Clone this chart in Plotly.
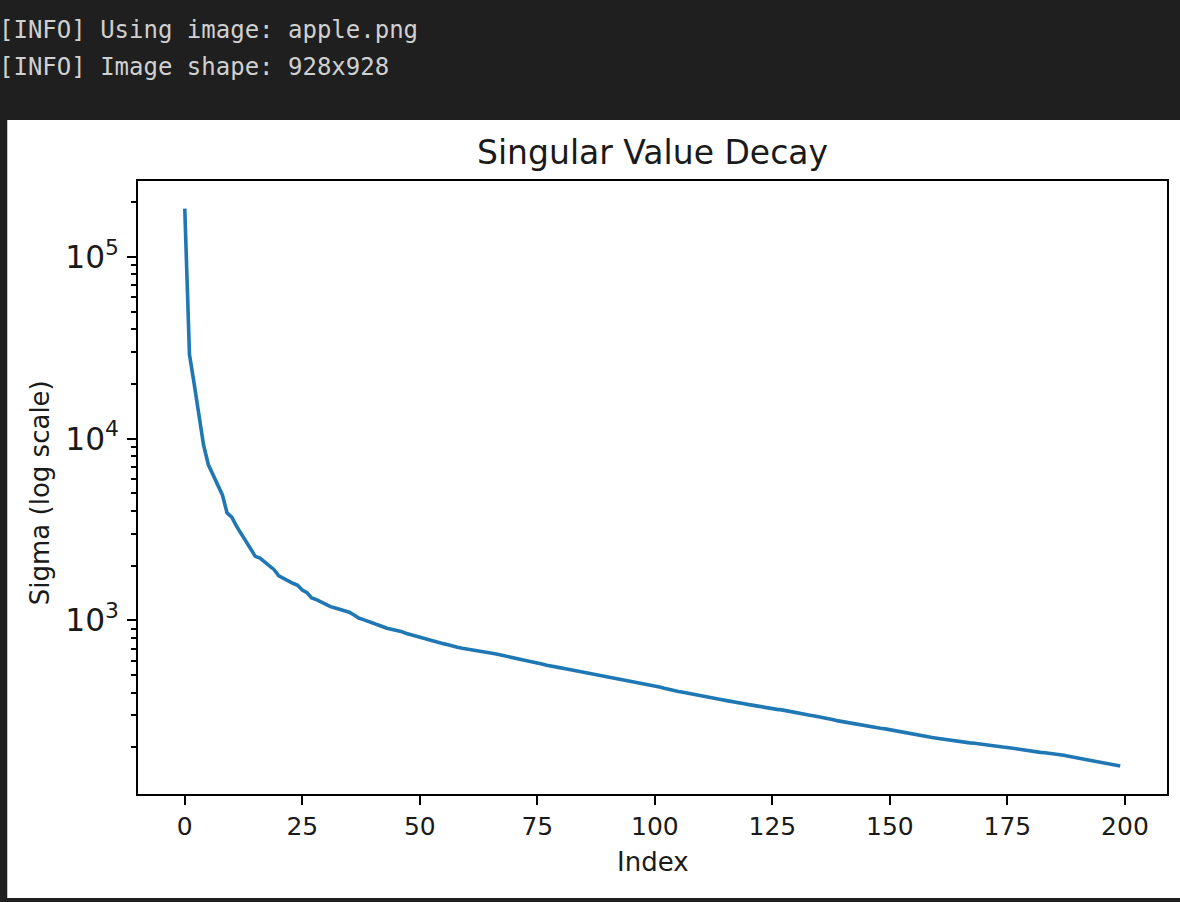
import plotly.graph_objects as go

# ---- data ----
title_text = "Singular Value Decay"
x_label = "Index"
y_label = "Sigma (log scale)"
console_lines = ["[INFO] Using image: apple.png", "[INFO] Image shape: 928x928"]

sigma = [
    184000, 29000, 20000, 14000, 9200, 7200, 6300, 5500, 4900, 3900,
    3700, 3300, 3000, 2750, 2450, 2250, 2200, 2100, 2000, 1900,
    1760, 1700, 1660, 1600, 1560, 1470, 1420, 1330, 1300, 1260,
    1220, 1190, 1170, 1150, 1130, 1110, 1070, 1030, 1010, 990,
    970, 955, 925, 905, 895, 875, 870, 850, 835, 820,
    810, 795, 780, 770, 755, 745, 735, 720, 712, 703,
    697, 690, 680, 675, 668, 660, 655, 648, 638, 627,
    618, 610, 605, 598, 592, 584, 575, 566, 558, 553,
    548, 542, 536, 530, 524, 518, 512, 506, 500, 496,
    490, 484, 478, 472, 466, 460, 456, 451, 446, 441,
    436, 430, 423, 416, 410, 406, 402, 398, 393, 388,
    384, 380, 375, 371, 367, 363, 360, 356, 352, 348,
    344, 340, 336, 332, 329, 326, 324, 322, 319, 316,
    313, 309, 305, 301, 298, 295, 292, 288, 284, 280,
    277, 274, 270, 267, 264, 261, 259, 257, 255, 253,
    250, 247, 245, 243, 241, 238, 235, 232, 229, 227,
    225, 223, 221, 218, 216, 214, 213, 212, 211, 209,
    207, 205, 203, 202, 201, 200, 198, 196, 194, 192,
    190, 189, 188, 187, 186, 185, 183, 181, 179, 177,
    175, 173, 171, 169, 168, 167, 165, 163, 161, 158,
]
index = list(range(len(sigma)))
x_ticks = [0, 25, 50, 75, 100, 125, 150, 175, 200]

# ---- layout geometry (pixels) ----
W, H = 1180, 902
L, R, T, B = 138, 1169, 181, 794
DARK = "#1f1f1f"
INK = "#1a1a1a"


def px_x(px):
    return (px - L) / (R - L)


def px_y(py):
    return (B - py) / (B - T)


fig = go.Figure()
fig.add_trace(go.Scatter(
    x=index, y=sigma, mode="lines",
    line=dict(color="#1f77b4", width=3.6),
    hoverinfo="skip", showlegend=False,
))

axis_common = dict(
    showline=True, linecolor="black", linewidth=2, mirror=True,
    ticks="outside", ticklen=9, tickwidth=2, tickcolor="black",
    showgrid=False, zeroline=False,
    tickfont=dict(family="DejaVu Sans", size=25, color=INK),
)

fig.update_xaxes(
    range=[-9.95, 208.95], tickmode="array", tickvals=x_ticks,
    ticktext=[str(t) for t in x_ticks], **axis_common,
)
fig.update_yaxes(
    type="log", range=[2.045, 5.417], dtick=1, exponentformat="power",
    ticklabelstandoff=3,
    minor=dict(ticks="outside", ticklen=5, tickwidth=1.6, tickcolor="black", dtick="D1", showgrid=False),
    **axis_common,
)

shapes = [
    # white figure panel on the dark terminal background
    dict(type="rect", xref="paper", yref="paper", layer="below",
         x0=px_x(7), x1=px_x(W + 5), y0=px_y(898), y1=px_y(120),
         fillcolor="white", line=dict(width=0)),
]

annotations = [
    dict(text=title_text, x=px_x((L + R) / 2), y=px_y(153), xref="paper", yref="paper",
         xanchor="center", yanchor="middle", showarrow=False,
         font=dict(family="DejaVu Sans", size=33, color=INK)),
    dict(text=x_label, x=px_x((L + R) / 2), y=px_y(862), xref="paper", yref="paper",
         xanchor="center", yanchor="middle", showarrow=False,
         font=dict(family="DejaVu Sans", size=26, color=INK)),
    dict(text=y_label, x=px_x(40), y=px_y(493), xref="paper", yref="paper",
         xanchor="center", yanchor="middle", showarrow=False, textangle=-90,
         font=dict(family="DejaVu Sans", size=26, color=INK)),
]
for i, line in enumerate(console_lines):
    annotations.append(dict(
        text=line, x=px_x(-3), y=px_y(30 + 37 * i), xref="paper", yref="paper",
        xanchor="left", yanchor="middle", showarrow=False,
        font=dict(family="DejaVu Sans Mono", size=24, color="#d0d0d0"),
    ))

fig.update_layout(
    width=W, height=H, autosize=False,
    margin=dict(l=L, r=W - R, t=T, b=H - B, pad=0),
    paper_bgcolor=DARK, plot_bgcolor="white",
    shapes=shapes, annotations=annotations,
    font=dict(family="DejaVu Sans", color=INK),
)

fig.write_html(
    "out.html",
    config={"displayModeBar": False},
    post_script="document.body.style.margin='0';document.body.style.background='#1f1f1f';",
)
